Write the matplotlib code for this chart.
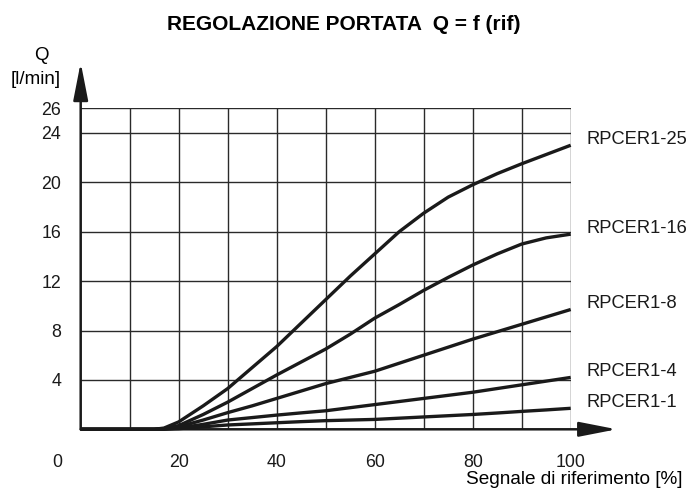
import matplotlib
matplotlib.use("Agg")
import matplotlib.pyplot as plt
from matplotlib.patches import ArrowStyle

plt.rcParams['font.family'] = ['Liberation Sans', 'DejaVu Sans']

# signal [%] and flow [l/min]
rif = [0, 15, 17, 20, 25, 30, 35, 40, 45, 50, 55, 60, 65, 70, 75, 80, 85,
       90, 95, 100]
q_25 = [0, 0, 0.1, 0.6, 1.9, 3.3, 5.0, 6.7, 8.6, 10.5, 12.4, 14.2, 16.0,
        17.5, 18.8, 19.8, 20.7, 21.5, 22.25, 23.0]
q_16 = [0, 0, 0.05, 0.3, 1.2, 2.2, 3.3, 4.4, 5.45, 6.5, 7.7, 9.0, 10.1,
        11.25, 12.3, 13.3, 14.2, 15.0, 15.5, 15.8]
q_8 = [0, 0, 0.03, 0.2, 0.75, 1.35, 1.9, 2.5, 3.1, 3.7, 4.2, 4.7, 5.35,
       6.0, 6.65, 7.3, 7.9, 8.5, 9.1, 9.7]
q_4 = [0, 0, 0.02, 0.1, 0.4, 0.75, 0.95, 1.15, 1.33, 1.5, 1.75, 2.0, 2.25,
       2.5, 2.75, 3.0, 3.3, 3.6, 3.9, 4.2]
q_1 = [0, 0, 0.01, 0.05, 0.2, 0.35, 0.44, 0.53, 0.62, 0.7, 0.75, 0.8, 0.9,
       1.0, 1.1, 1.2, 1.32, 1.45, 1.57, 1.7]
series = [q_25, q_16, q_8, q_4, q_1]
names = ['RPCER1-25', 'RPCER1-16', 'RPCER1-8', 'RPCER1-4', 'RPCER1-1']

y_ticks = [4, 8, 12, 16, 20, 24, 26]
x_ticks = [20, 40, 60, 80, 100]
x_grid = [10, 20, 30, 40, 50, 60, 70, 80, 90, 100]

W, H = 693, 492
fig = plt.figure(figsize=(W / 100, H / 100), dpi=100)
ax = fig.add_axes([80.7 / W, 62.7 / H, 490 / W, 321.1 / H])
ax.set_xlim(0, 100)
ax.set_ylim(0, 26)
for s in ax.spines.values():
    s.set_visible(False)

# grid
for y in y_ticks:
    ax.axhline(y, color='#2a2a2a', lw=1.0, zorder=1)
for x in x_grid:
    ax.axvline(x, color='#2a2a2a', lw=1.0, zorder=1)

# axes with arrows
st = ArrowStyle('-|>', head_length=2.3, head_width=0.45)
ax.annotate('', xy=(109.4, 0), xytext=(0, 0), annotation_clip=False,
            arrowprops=dict(arrowstyle=st, mutation_scale=10, lw=1.8,
                            color='#1a1a1a', shrinkA=0, shrinkB=0))
ax.annotate('', xy=(0, 29.7), xytext=(0, 0), annotation_clip=False,
            arrowprops=dict(arrowstyle=st, mutation_scale=10, lw=1.8,
                            color='#1a1a1a', shrinkA=0, shrinkB=0))

for q, name in zip(series, names):
    ax.plot(rif, q, color='#1a1a1a', lw=2.4, solid_capstyle='butt',
            solid_joinstyle='round', zorder=3, clip_on=False)
    ax.annotate(name, xy=(rif[-1], q[-1]), xytext=(11.5, 4),
                textcoords='offset points', ha='left', va='center',
                fontsize=13.2, color='#1a1a1a')

ax.set_xticks(x_ticks)
ax.set_yticks(y_ticks)
ax.tick_params(length=0, labelsize=12.8, colors='#1a1a1a')
ax.tick_params(axis='x', pad=18)
ax.tick_params(axis='y', pad=14)
ax.text(-4.8, -2.7, '0', ha='center', va='center', fontsize=12.8,
        color='#1a1a1a')

fig.text(343.5 / W, 1 - 25 / H, 'REGOLAZIONE PORTATA  Q = f (rif)',
         ha='center', va='center', fontsize=15, fontweight='bold')
fig.text(41 / W, 1 - 55 / H, 'Q', ha='center', va='center', fontsize=13.5)
fig.text(36 / W, 1 - 79 / H, '[l/min]', ha='center', va='center',
         fontsize=13.5)
fig.text(683 / W, 1 - 480 / H, 'Segnale di riferimento [%]', ha='right',
         va='center', fontsize=13.7)

fig.savefig('out.png', dpi=100)
